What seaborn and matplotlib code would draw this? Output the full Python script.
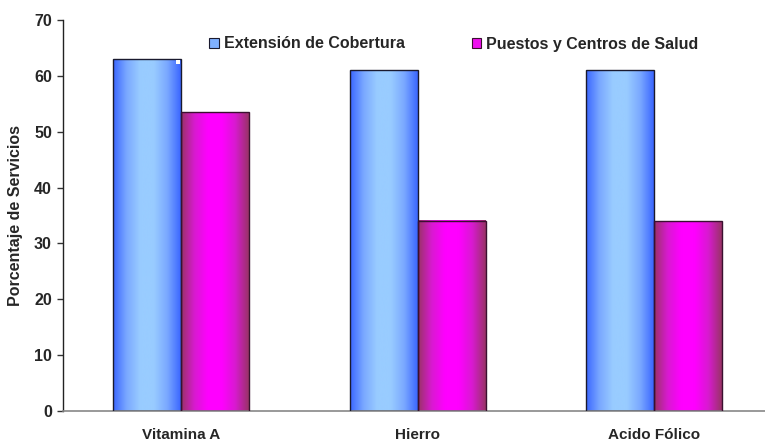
import numpy as np
import pandas as pd
import matplotlib
matplotlib.use("Agg")
import matplotlib.pyplot as plt
import seaborn as sns
from matplotlib.colors import LinearSegmentedColormap
from matplotlib.patches import Patch, Rectangle

categories = ["Vitamina A", "Hierro", "Acido Fólico"]
series_names = ["Extensión de Cobertura", "Puestos y Centros de Salud"]
extension = [63.0, 61.0, 61.0]
puestos = [53.5, 34.1, 34.0]
y_ticks = [0, 10, 20, 30, 40, 50, 60, 70]

df = pd.DataFrame({
    "cat": categories * 2,
    "serie": [series_names[0]] * 3 + [series_names[1]] * 3,
    "valor": extension + puestos,
})

sns.set_theme(style="white")
plt.rcParams["font.family"] = ["Liberation Sans", "DejaVu Sans"]

fig = plt.figure(figsize=(7.65, 4.42), dpi=100)
ax = fig.add_axes([63 / 765, 1 - 411 / 442, 709.5 / 765, 391 / 442])

palette = {series_names[0]: "#6f9cff", series_names[1]: "#d010d0"}
sns.barplot(data=df, x="cat", y="valor", hue="serie", palette=palette,
            width=0.575, gap=0, ax=ax, legend=False, saturation=1)

# cylinder-style horizontal shading for each series
cmaps = {
    series_names[0]: LinearSegmentedColormap.from_list(
        "azul", ["#3a66ff", "#7aa8ff", "#99ccff", "#99ccff", "#7aa8ff", "#3a66ff"]),
    series_names[1]: LinearSegmentedColormap.from_list(
        "magenta", ["#993366", "#d81ad0", "#ff00ff", "#ff00ff", "#d81ad0", "#993366"]),
}
edge_cols = {series_names[0]: "#1a1a2e", series_names[1]: "#3a1030"}
grad = np.linspace(0, 1, 256).reshape(1, -1)
bars = list(ax.patches)
for i, p in enumerate(bars):
    serie = series_names[i // len(categories)]
    x0, y0 = p.get_x(), p.get_y()
    w, h = p.get_width(), p.get_height()
    ax.imshow(grad, cmap=cmaps[serie], aspect="auto",
              extent=[x0, x0 + w, y0, y0 + h], zorder=2, interpolation="bicubic")
    p.set_facecolor("none")
    p.set_edgecolor(edge_cols[serie])
    p.set_linewidth(1.0)
    p.set_zorder(3)

# small white handle in the upper-right corner of the first bar
first = bars[0]
hx = first.get_x() + first.get_width() * 0.93
hy = first.get_height() - 0.9
ax.add_patch(Rectangle((hx, hy), first.get_width() * 0.055, 0.8,
                       facecolor="white", edgecolor="none", zorder=4))

ax.set_xlim(-0.5, 2.5)
ax.set_ylim(0, 70)
ax.set_yticks(y_ticks)
ax.set_yticklabels([str(t) for t in y_ticks], fontsize=11.5, fontweight="bold")

# category labels centred, tick marks on the boundaries between groups
ax.set_xticks([0, 1, 2])
ax.set_xticklabels(categories, fontsize=11, fontweight="bold")
ax.tick_params(axis="x", length=0, pad=12.5)
ax.set_xticks([-0.5, 0.5, 1.5], minor=True)
ax.tick_params(axis="x", which="minor", length=5, width=1, color="#333333", direction="out")
ax.tick_params(axis="y", length=4, width=1, color="#333333", direction="out", pad=4, left=True)

ax.set_xlabel("")
ax.set_ylabel("Porcentaje de Servicios", fontsize=11.5, fontweight="bold", labelpad=8)

for s in ["top", "right"]:
    ax.spines[s].set_visible(False)
ax.spines["left"].set_color("#222222")
ax.spines["left"].set_linewidth(1.0)
ax.spines["bottom"].set_color("#888888")
ax.spines["bottom"].set_linewidth(1.2)

handles = [
    Patch(facecolor="#7fb0ff", edgecolor="#1a1a2e", linewidth=0.8, label=series_names[0]),
    Patch(facecolor="#ee10ee", edgecolor="#3a1030", linewidth=0.8, label=series_names[1]),
]
fig.legend(handles=handles, loc="center", bbox_to_anchor=(454 / 765, 1 - 44 / 442),
           ncol=2, frameon=False, handlelength=0.6, handleheight=0.6,
           handletextpad=0.3, columnspacing=4.2,
           prop={"weight": "bold", "size": 11.5})

fig.savefig("out.png", dpi=100)
